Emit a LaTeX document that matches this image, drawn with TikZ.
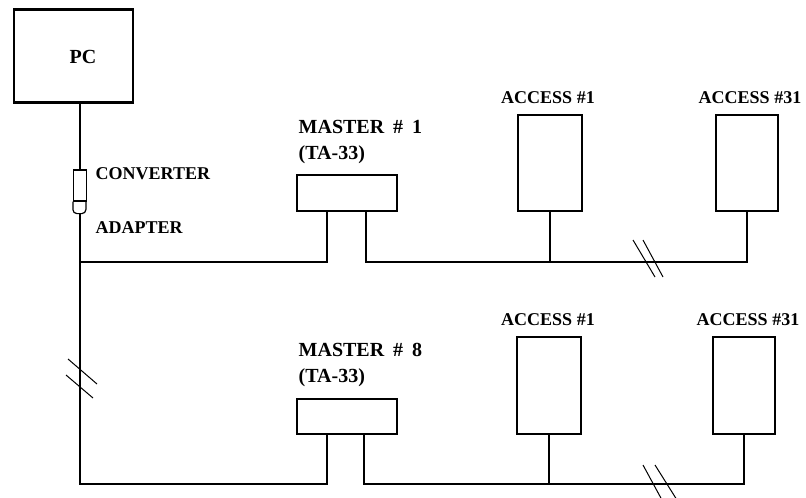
\documentclass[tikz,border=0pt]{standalone}
\usepackage{fontspec}
\setmainfont{Liberation Serif}
\usetikzlibrary{calc}
\begin{document}
\begin{tikzpicture}[x=1pt,y=-1pt,line width=1.4pt,
  box/.style={draw,rectangle,inner sep=0pt,line width=1.4pt},
  lbl/.style={font=\bfseries\fontsize{18}{20}\selectfont,inner sep=0pt},
  mlbl/.style={font=\bfseries\fontsize{20}{26}\selectfont,inner sep=0pt,align=left},
  brk/.style={line width=1pt}]
\useasboundingbox (0,0) rectangle (806,498);
% PC
\node[box,minimum width=119pt,minimum height=92pt] (pc) at (73.5,56) {};
\draw[line width=2.6pt] (pc.north west) -- (pc.north east);
\draw[line width=2.6pt] (pc.south west) -- (pc.south east);
\node[lbl,font=\bfseries\fontsize{20}{22}\selectfont] (pct) at (83,57) {PC};
% converter
\node[box,minimum width=13pt,minimum height=31pt,line width=1.2pt] (cv) at (80,185.5) {};
\draw[line width=1.2pt,rounded corners=4pt] (cv.south west) -- ++(0,12) -- ++(13,0) -- ++(0,-12);
\coordinate (cvb) at (80,213);
\node[lbl,anchor=west] (cvt) at (95,174) {CONVERTER};
\node[lbl,anchor=west] (adt) at (95,228) {ADAPTER};
% buses
\coordinate (bus1) at (0,262);
\coordinate (bus2) at (0,484);
% top row
\node[box,minimum width=100pt,minimum height=36pt] (m1) at (347,193) {};
\node[mlbl,anchor=north west] (m1t) at (298,120) {MASTER\hspace{0.45em}\#\hspace{0.45em}1\\(TA-33)};
\node[box,minimum width=64pt,minimum height=96pt] (a1) at (550,163) {};
\node[lbl] (a1t) at (548,98) {ACCESS \#1};
\node[box,minimum width=62pt,minimum height=96pt] (a31) at (747,163) {};
\node[lbl] (a31t) at (750,98) {ACCESS \#31};
% bottom row
\node[box,minimum width=100pt,minimum height=35pt] (m8) at (347,416.5) {};
\node[mlbl,anchor=north west] (m8t) at (298,342) {MASTER\hspace{0.45em}\#\hspace{0.45em}8\\(TA-33)};
\node[box,minimum width=64pt,minimum height=97pt] (b1) at (549,385.5) {};
\node[lbl] (b1t) at (548,320) {ACCESS \#1};
\node[box,minimum width=62pt,minimum height=97pt] (b31) at (744,385.5) {};
\node[lbl] (b31t) at (748,320) {ACCESS \#31};
% connectors
\draw (cv.north |- pc.south) -- (cv.north);
\draw (cvb) -- (cvb |- bus2) -| ([xshift=-20pt]m8.south);
\draw (cvb |- bus1) -| ([xshift=-20pt]m1.south);
\draw ([xshift=19pt]m1.south) |- (bus1 -| a31.south) -- (a31.south);
\draw (a1.south) -- (a1.south |- bus1);
\draw ([xshift=17pt]m8.south) |- (bus2 -| b31.south) -- (b31.south);
\draw (b1.south) -- (b1.south |- bus2);
% break marks
\draw[brk] (633,240) -- (655,277);
\draw[brk] (643,240) -- (663,277);
\draw[brk] (643,465) -- (662,500);
\draw[brk] (655,465) -- (677,500);
\draw[brk] (68,359) -- (97,384);
\draw[brk] (66,375) -- (93,398);
\end{tikzpicture}
\end{document}
